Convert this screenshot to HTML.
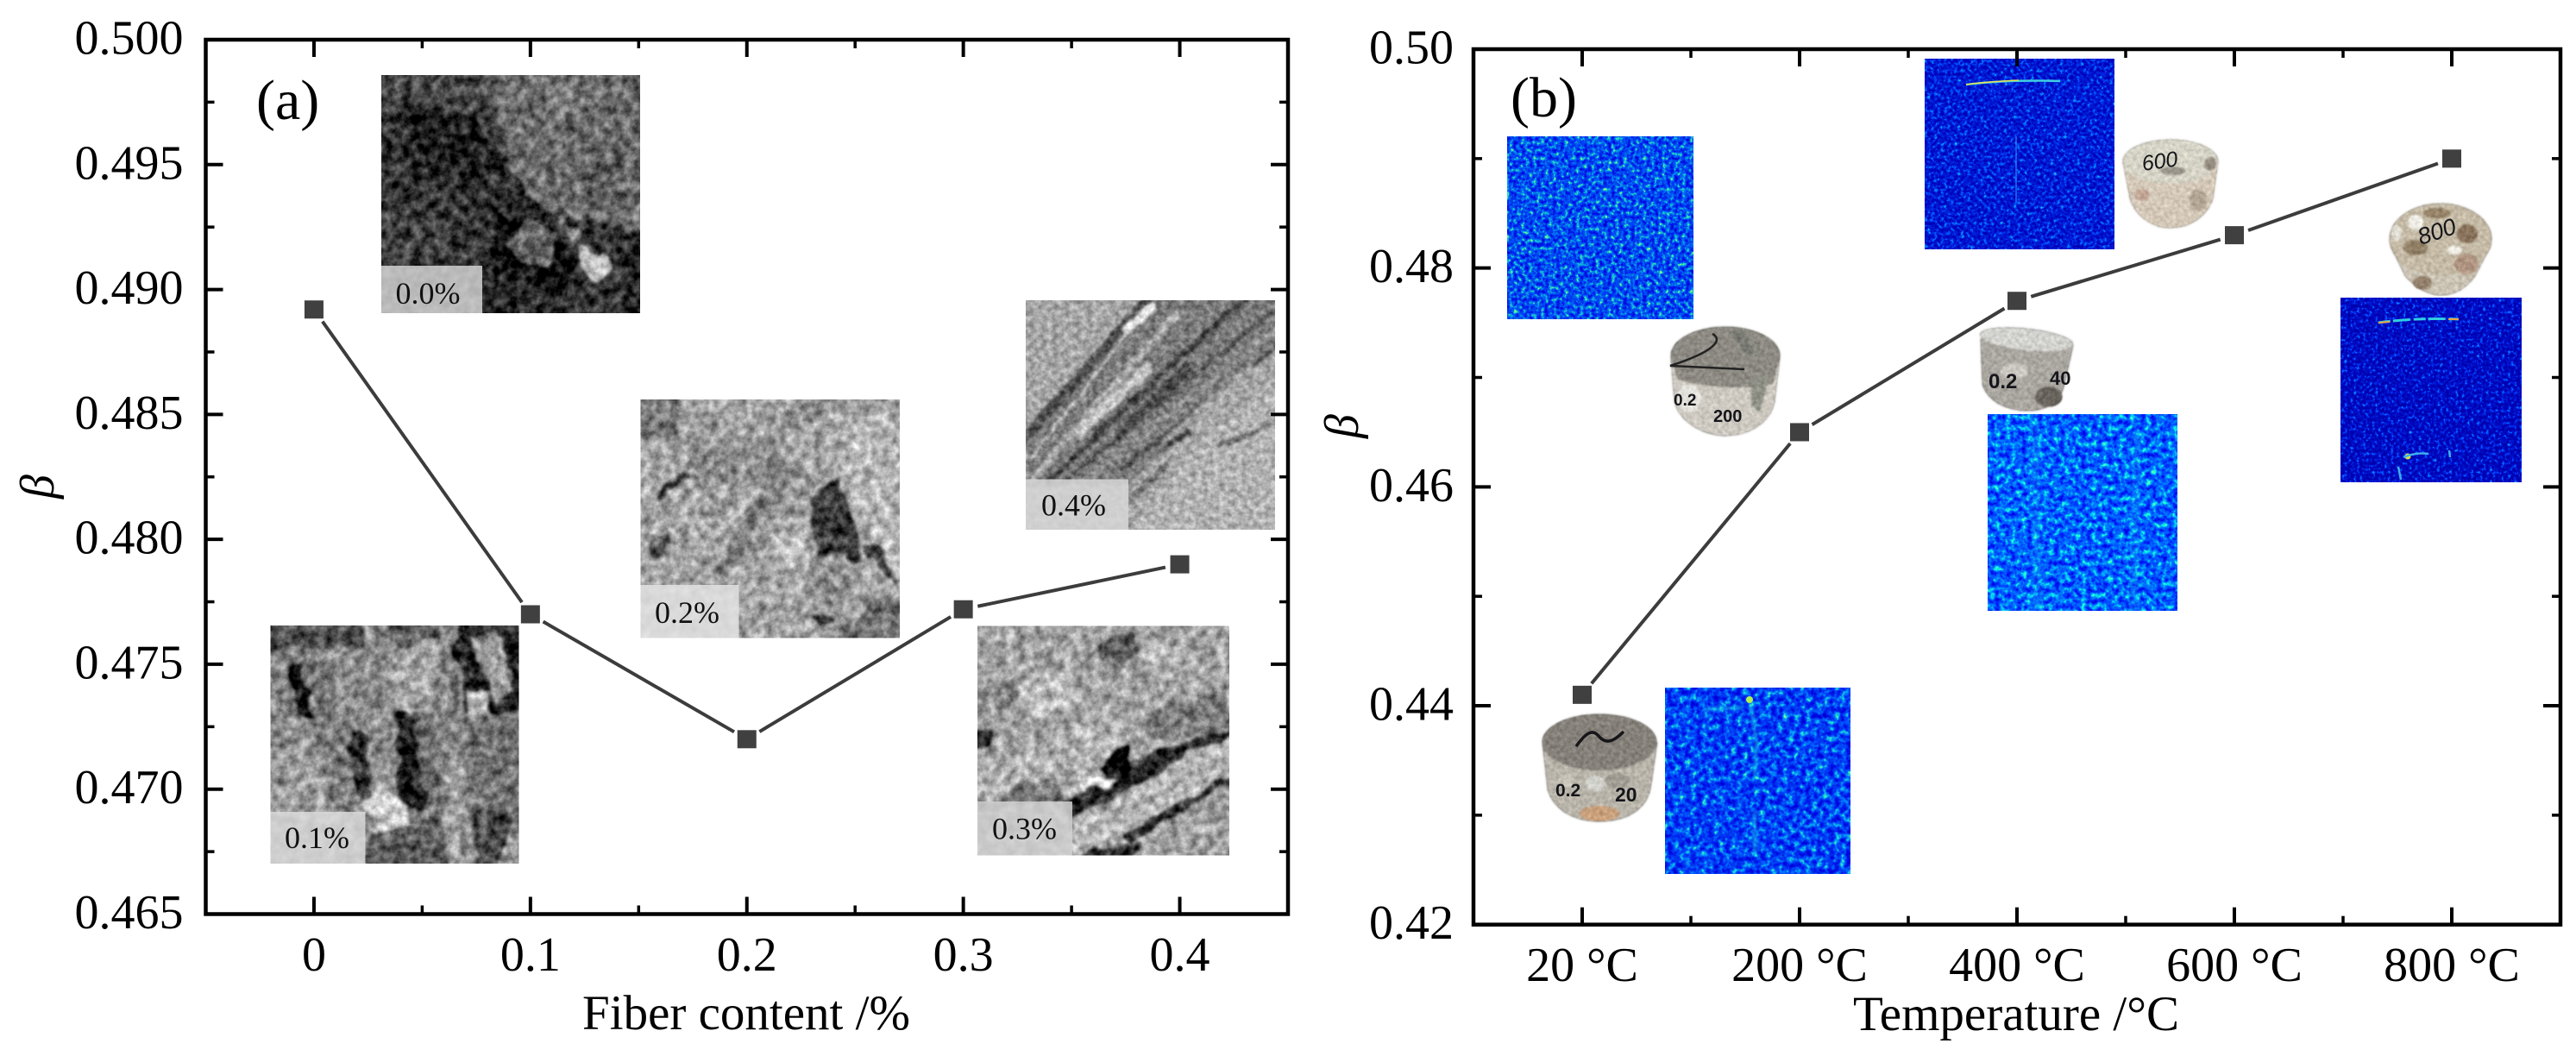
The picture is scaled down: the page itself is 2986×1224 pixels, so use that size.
<!DOCTYPE html>
<html lang="en">
<head>
<meta charset="utf-8">
<title>Beta versus fiber content and temperature</title>
<style>
html,body{margin:0;padding:0;background:#fff;}
body{width:2986px;height:1219px;overflow:hidden;}
svg text{font-family:"Liberation Serif","DejaVu Serif",serif;fill:#000;}
.tag{font-size:36px;fill:#111;}
svg text.ink{font-family:"Liberation Sans","DejaVu Sans",sans-serif;font-weight:700;fill:#15151a;}
svg text.thin{font-weight:400;font-style:italic;}
</style>
</head>
<body>
<svg id="fig" xmlns="http://www.w3.org/2000/svg" width="2986" height="1219" viewBox="0 0 2986 1219">
<defs>
  <filter id="sem" color-interpolation-filters="sRGB" x="-5%" y="-5%" width="110%" height="110%">
    <feTurbulence type="fractalNoise" baseFrequency=".035" numOctaves="2" seed="4" result="warp"/>
    <feDisplacementMap in="SourceGraphic" in2="warp" scale="22" xChannelSelector="R" yChannelSelector="G" result="d"/>
    <feGaussianBlur in="d" stdDeviation="1.5" result="b"/>
    <feTurbulence type="fractalNoise" baseFrequency=".09" numOctaves="4" seed="9"/>
    <feColorMatrix values="1 0 0 0 0 1 0 0 0 0 1 0 0 0 0 0 0 0 0 1" result="n"/>
    <feComposite in="b" in2="n" operator="arithmetic" k1="0" k2="1" k3=".75" k4="-.375"/>
  </filter>
  <filter id="semL" color-interpolation-filters="sRGB" x="-5%" y="-5%" width="110%" height="110%">
    <feTurbulence type="fractalNoise" baseFrequency=".05" numOctaves="2" seed="8" result="warp"/>
    <feDisplacementMap in="SourceGraphic" in2="warp" scale="7" xChannelSelector="R" yChannelSelector="G" result="d"/>
    <feGaussianBlur in="d" stdDeviation="1.6" result="b"/>
    <feTurbulence type="fractalNoise" baseFrequency=".15" numOctaves="3" seed="15"/>
    <feColorMatrix values="1 0 0 0 0 1 0 0 0 0 1 0 0 0 0 0 0 0 0 1" result="n"/>
    <feComposite in="b" in2="n" operator="arithmetic" k1="0" k2="1" k3=".5" k4="-.25"/>
  </filter>
  <filter id="blueA" color-interpolation-filters="sRGB" x="0" y="0" width="1" height="1">
    <feTurbulence type="fractalNoise" baseFrequency=".22" numOctaves="3" seed="3"/>
    <feColorMatrix values="1 0 0 0 0 1 0 0 0 0 1 0 0 0 0 0 0 0 0 1"/>
    <feComponentTransfer>
      <feFuncR type="table" tableValues="0 0 0 0 0 0 0 .06 .35 .8 1"/>
      <feFuncG type="table" tableValues="0 0 .02 .06 .17 .29 .46 .72 .95 1 1"/>
      <feFuncB type="table" tableValues=".8 .8 .85 .9 .93 .95 .95 .85 .6 .4 .3"/>
    </feComponentTransfer>
  </filter>
  <filter id="blueB" color-interpolation-filters="sRGB" x="0" y="0" width="1" height="1">
    <feTurbulence type="fractalNoise" baseFrequency=".26" numOctaves="3" seed="7"/>
    <feColorMatrix values="1 0 0 0 0 1 0 0 0 0 1 0 0 0 0 0 0 0 0 1"/>
    <feComponentTransfer>
      <feFuncR type="table" tableValues="0 0 0 0 0 0 0 0 .05 .2 .4"/>
      <feFuncG type="table" tableValues="0 0 0 0 .04 .09 .18 .38 .6 .8 1"/>
      <feFuncB type="table" tableValues=".6 .65 .7 .72 .76 .82 .92 1 1 1 1"/>
    </feComponentTransfer>
  </filter>
  <filter id="blueD" color-interpolation-filters="sRGB" x="0" y="0" width="1" height="1">
    <feTurbulence type="fractalNoise" baseFrequency=".28" numOctaves="3" seed="17"/>
    <feColorMatrix values="1 0 0 0 0 1 0 0 0 0 1 0 0 0 0 0 0 0 0 1"/>
    <feComponentTransfer>
      <feFuncR type="table" tableValues="0 0 0 0 0 0 0 0 .03 .15 .3"/>
      <feFuncG type="table" tableValues="0 0 0 0 .01 .04 .1 .26 .5 .7 1"/>
      <feFuncB type="table" tableValues=".6 .62 .65 .68 .7 .75 .85 1 1 1 1"/>
    </feComponentTransfer>
  </filter>
  <filter id="blueC" color-interpolation-filters="sRGB" x="0" y="0" width="1" height="1">
    <feTurbulence type="fractalNoise" baseFrequency=".15" numOctaves="3" seed="12"/>
    <feColorMatrix values="1 0 0 0 0 1 0 0 0 0 1 0 0 0 0 0 0 0 0 1"/>
    <feComponentTransfer>
      <feFuncR type="table" tableValues="0 0 0 0 0 0 0 .03 .15 .5 .8"/>
      <feFuncG type="table" tableValues="0 0 .01 .05 .14 .25 .4 .64 .9 1 1"/>
      <feFuncB type="table" tableValues=".75 .8 .85 .9 .93 .96 1 .95 .8 .6 .5"/>
    </feComponentTransfer>
  </filter>
  <filter id="blueE" color-interpolation-filters="sRGB" x="0" y="0" width="1" height="1">
    <feTurbulence type="fractalNoise" baseFrequency=".16" numOctaves="3" seed="28"/>
    <feColorMatrix values="1 0 0 0 0 1 0 0 0 0 1 0 0 0 0 0 0 0 0 1"/>
    <feComponentTransfer>
      <feFuncR type="table" tableValues="0 0 0 0 0 0 0 .02 .12 .4 .7"/>
      <feFuncG type="table" tableValues="0 0 .03 .1 .24 .37 .54 .8 1 1 1"/>
      <feFuncB type="table" tableValues=".85 .85 .9 .95 1 1 1 .95 .85 .7 .6"/>
    </feComponentTransfer>
  </filter>
  <filter id="rough" color-interpolation-filters="sRGB" x="-5%" y="-5%" width="110%" height="110%">
    <feGaussianBlur in="SourceGraphic" stdDeviation="1" result="b"/>
    <feTurbulence type="fractalNoise" baseFrequency=".22" numOctaves="3" seed="21"/>
    <feColorMatrix values="1 0 0 0 0 1 0 0 0 0 1 0 0 0 0 0 0 0 0 1" result="n"/>
    <feComposite in="b" in2="n" operator="arithmetic" k1="0" k2="1" k3=".26" k4="-.13" result="c"/>
    <feComposite in="c" in2="b" operator="in"/>
  </filter>
  <filter id="soft" x="-20%" y="-20%" width="140%" height="140%"><feGaussianBlur stdDeviation="1.6"/></filter>
  <clipPath id="c00"><rect x="442" y="87" width="300" height="276"/></clipPath>
  <clipPath id="c01"><rect x="313.500" y="725" width="288" height="276"/></clipPath>
  <clipPath id="c02"><rect x="742.500" y="463" width="300.500" height="276.500"/></clipPath>
  <clipPath id="c03"><rect x="1133" y="725.500" width="292" height="266"/></clipPath>
  <clipPath id="c04"><rect x="1189" y="348" width="289" height="266"/></clipPath>
</defs>

<rect x="0" y="0" width="2986" height="1219" fill="#fff"/>

<!-- SEM insets, panel (a) -->
<g>
  <g clip-path="url(#c00)"><g filter="url(#sem)">
    <rect x="410" y="60" width="360" height="330" fill="#343434"/>
    <g transform="translate(300 80) scale(.4847 .5931)">
      <polygon points="250,-20 560,-20 600,120 420,70 300,70 250,60" fill="#474747"/>
      <polygon points="530,-20 950,-20 950,330 870,310 770,290 720,300 650,250 590,170" fill="#6c6c6c"/>
      <polygon points="690,30 760,30 760,90 690,90" fill="#7c7c7c"/>
      <polygon points="760,120 880,160 880,280 780,260" fill="#5d5d5d"/>
      <polygon points="340,70 520,90 590,190 520,230 350,180" fill="#1e1e1e"/>
      <polygon points="520,220 660,260 720,310 620,320 560,300" fill="#272727"/>
      <polygon points="250,290 420,280 490,330 430,370 250,380" fill="#404040"/>
      <polygon points="560,280 700,310 760,370 720,480 560,500" fill="#0f0f0f"/>
      <polygon points="585,335 650,300 720,320 700,380 630,385" fill="#616161"/>
      <polygon points="760,340 820,360 850,395 810,420 775,395" fill="#c4c4c4"/>
      <polygon points="730,300 770,310 770,350 745,340" fill="#8d8d8d"/>
      <polygon points="840,320 950,320 950,500 860,500 880,400" fill="#232323"/>
      <polygon points="530,400 720,430 760,500 540,500" fill="#2a2a2a"/>
    </g>
  </g></g>
  <rect x="442" y="308" width="117" height="55" fill="#d8d8d8" opacity=".82"/>
  <text class="tag" x="458.500" y="352">0.0%</text>
</g>

<g>
  <g clip-path="url(#c01)"><g filter="url(#sem)">
    <rect x="285" y="700" width="345" height="330" fill="#7e7e7e"/>
    <g transform="translate(300 80) scale(.4847 .5931)">
      <polygon points="0,1070 250,1070 250,1130 150,1120 0,1140" fill="#4c4c4c"/>
      <polygon points="310,1070 420,1070 420,1120 310,1120" fill="#5c5c5c"/>
      <polygon points="470,1070 660,1070 660,1260 490,1260" fill="#222"/>
      <polygon points="0,1250 110,1240 125,1310 0,1340" fill="#8c8c8c"/>
      <polygon points="0,1340 120,1310 210,1430 170,1470 0,1460" fill="#9c9c9c"/>
      <polygon points="70,1165 108,1160 128,1275 95,1250" fill="#0a0a0a"/>
      <polygon points="105,1150 152,1130 218,1420 168,1440" fill="#7b7b7b"/>
      <polygon points="215,1290 258,1300 262,1420 232,1420" fill="#2c2c2c"/>
      <polygon points="160,1130 250,1130 255,1300 215,1290" fill="#8c8c8c"/>
      <polygon points="250,1075 305,1075 330,1412 268,1412" fill="#8c8c8c"/>
      <polygon points="310,1120 420,1120 425,1260 330,1260" fill="#a4a4a4"/>
      <polygon points="330,1255 372,1255 398,1450 335,1440" fill="#181818"/>
      <polygon points="365,1255 412,1255 442,1452 398,1452" fill="#6c6c6c"/>
      <polygon points="418,1075 470,1075 496,1342 438,1342" fill="#858585"/>
      <polygon points="438,1346 490,1350 514,1570 450,1570" fill="#9c9c9c"/>
      <polygon points="508,1110 562,1100 612,1210 562,1232" fill="#9a9a9a"/>
      <polygon points="495,1215 550,1220 555,1265 500,1265" fill="#b4b4b4"/>
      <polygon points="500,1280 660,1240 660,1570 510,1570" fill="#727272"/>
      <polygon points="510,1450 610,1450 570,1570 510,1570" fill="#474747"/>
      <polygon points="590,1510 660,1470 660,1570 570,1570" fill="#9c9c9c"/>
      <polygon points="250,1430 300,1400 360,1440 350,1490 280,1490" fill="#d0d0d0"/>
      <polygon points="260,1490 440,1470 450,1570 260,1570" fill="#5c5c5c"/>
    </g>
  </g></g>
  <rect x="313.500" y="941" width="110" height="60" fill="#dcdcdc" opacity=".85"/>
  <text class="tag" x="330" y="983">0.1%</text>
</g>

<g>
  <g clip-path="url(#c02)"><g filter="url(#sem)">
    <rect x="715" y="435" width="355" height="330" fill="#a4a4a4"/>
    <g transform="translate(300 80) scale(.4847 .5931)">
      <polygon points="890,620 1010,620 1010,720 890,720" fill="#757575"/>
      <polygon points="1240,670 1320,660 1325,695 1240,705" fill="#8c8c8c"/>
      <polygon points="1320,640 1400,640 1400,670 1320,680" fill="#888"/>
      <polygon points="1000,720 1260,720 1230,800 1050,820" fill="#8e8e8e"/>
      <polygon points="1075,990 1250,755 1292,765 1120,1000" fill="#7f7f7f"/>
      <polygon points="1150,980 1280,780 1340,800 1220,940" fill="#989898"/>
      <polygon points="950,830 1010,780 1020,790 960,840" fill="#333"/>
      <polygon points="930,910 985,910 985,950 930,950" fill="#5c5c5c"/>
      <polygon points="1330,830 1390,800 1450,960 1340,960 1320,880" fill="#3a3a3a"/>
      <polygon points="1380,690 1560,680 1560,920 1460,920 1400,830" fill="#b6b6b6"/>
      <polygon points="1450,950 1560,900 1560,1020 1510,1010" fill="#c2c2c2"/>
      <polygon points="1450,930 1470,925 1530,1010 1470,970" fill="#444"/>
      <polygon points="1230,900 1310,900 1310,980 1230,980" fill="#bcbcbc"/>
      <polygon points="1310,960 1400,950 1420,1040 1340,1080 1320,1040" fill="#8f8f8f"/>
      <polygon points="1330,1065 1380,1080 1370,1090 1320,1075" fill="#222"/>
      <polygon points="1360,1112 1530,1020 1560,1130 1420,1130" fill="#6e6e6e"/>
    </g>
  </g></g>
  <rect x="742.500" y="678" width="114" height="61.500" fill="#e0e0e0" opacity=".88"/>
  <text class="tag" x="759" y="722">0.2%</text>
</g>

<g>
  <g clip-path="url(#c03)"><g filter="url(#sem)">
    <rect x="1105" y="700" width="350" height="320" fill="#a2a2a2"/>
    <g transform="translate(1120 340) scale(.3333 .4209)">
      <polygon points="470,960 590,920 590,1000 480,1020" fill="#505050"/>
      <polygon points="190,1080 330,1040 400,1120 240,1170" fill="#c0c0c0"/>
      <polygon points="570,1100 900,1000 915,1080 590,1150" fill="#a4a4a4"/>
      <polygon points="0,1100 180,1060 180,1130 0,1180" fill="#8a8a8a"/>
      <polygon points="620,960 760,980 740,1030 620,1010" fill="#bcbcbc"/>
      <polygon points="620,1150 915,1090 915,1210 640,1230" fill="#7c7c7c"/>
      <polygon points="0,1340 500,1150 570,1200 570,1260 0,1400" fill="#b2b2b2"/>
      <polygon points="0,1200 100,1205 100,1250 0,1260" fill="#1c1c1c"/>
      <polygon points="0,1400 330,1330 320,1400 0,1430" fill="#777"/>
      <polygon points="320,1395 570,1295 930,1190 930,1235 640,1330 370,1435" fill="#2c2c2c"/>
      <polygon points="465,1305 560,1245 565,1325 480,1325" fill="#030303"/>
      <polygon points="395,1335 530,1335 500,1365 395,1365" fill="#ebebeb"/>
      <polygon points="350,1470 720,1290 930,1210 930,1320 540,1490 420,1570 350,1570" fill="#b4b4b4"/>
      <polygon points="530,1500 930,1320 930,1350 700,1450 560,1520" fill="#2e2e2e"/>
      <polygon points="560,1570 930,1380 930,1570" fill="#a0a0a0"/>
      <polygon points="400,1548 620,1510 560,1570 400,1570" fill="#2c2c2c"/>
    </g>
  </g></g>
  <rect x="1133" y="929" width="110" height="62.500" fill="#d2d2d2" opacity=".84"/>
  <text class="tag" x="1150" y="972.600">0.3%</text>
</g>

<g>
  <g clip-path="url(#c04)"><g filter="url(#semL)">
    <rect x="1160" y="320" width="350" height="320" fill="#a6a6a6"/>
    <g transform="translate(1120 340) scale(.3333 .4209)">
      <polygon points="208,430 420,200 700,-20 1100,-20 1100,130 800,350 560,530 208,530" fill="#7c7c7c"/>
      <polygon points="540,680 800,420 1100,225 1100,680" fill="#b2b2b2"/>
      <g fill="none">
        <line x1="170" y1="430" x2="640" y2="10" stroke="#4e4e4e" stroke-width="32"/>
        <line x1="220" y1="520" x2="740" y2="50" stroke="#ababab" stroke-width="22"/>
        <line x1="280" y1="520" x2="980" y2="5" stroke="#404040" stroke-width="18"/>
        <line x1="380" y1="390" x2="640" y2="200" stroke="#c4c4c4" stroke-width="34"/>
        <line x1="330" y1="525" x2="1100" y2="25" stroke="#585858" stroke-width="14"/>
        <line x1="520" y1="400" x2="780" y2="200" stroke="#484848" stroke-width="30"/>
        <line x1="410" y1="515" x2="1100" y2="85" stroke="#909090" stroke-width="16"/>
        <line x1="540" y1="485" x2="1100" y2="135" stroke="#4f4f4f" stroke-width="14"/>
        <line x1="700" y1="400" x2="1000" y2="200" stroke="#a2a2a2" stroke-width="24"/>
        <line x1="570" y1="570" x2="700" y2="470" stroke="#6e6e6e" stroke-width="20"/>
        <line x1="880" y1="420" x2="1100" y2="345" stroke="#747474" stroke-width="14"/>
        <line x1="225" y1="455" x2="560" y2="110" stroke="#dcdcdc" stroke-width="6"/>
        <line x1="550" y1="105" x2="655" y2="32" stroke="#e8e8e8" stroke-width="28"/>
        <line x1="695" y1="420" x2="780" y2="380" stroke="#444" stroke-width="14"/>
      </g>
    </g>
  </g></g>
  <rect x="1189" y="555.500" width="119" height="58.500" fill="#d6d6d6" opacity=".86"/>
  <text class="tag" x="1207" y="597.600">0.4%</text>
</g>

<!-- Panel (b): scan images -->
<rect x="1747" y="158" width="216" height="212" fill="#0040e0" filter="url(#blueA)"/>
<g>
  <rect x="2231" y="68" width="220" height="221" fill="#0020c8" filter="url(#blueB)"/>
  <path d="M2279 98 Q2330 92 2388 94" fill="none" stroke="#40d0e0" stroke-width="2.500"/>
  <path d="M2279 98 Q2300 95 2340 93" fill="none" stroke="#e8e050" stroke-width="1.500"/>
  <line x1="2337" y1="158" x2="2337" y2="235" stroke="#2a9cf0" stroke-width="1.500" opacity=".7"/>
</g>
<g>
  <rect x="2304" y="480" width="220" height="228" fill="#0050f0" filter="url(#blueE)"/>
  <g fill="none" stroke="#20c8f0" stroke-width="10" opacity=".2" filter="url(#soft)">
    <path d="M2358 480 L2362 708"/><path d="M2478 500 L2472 708"/>
  </g>
</g>
<g>
  <rect x="2713" y="345" width="210" height="214" fill="#0010c0" filter="url(#blueD)"/>
  <path d="M2757 374 Q2800 368 2850 370" fill="none" stroke="#30d0e0" stroke-width="3" stroke-dasharray="14 3 20 4"/>
  <path d="M2757 374 L2770 373 M2838 370 L2850 370" fill="none" stroke="#f0a040" stroke-width="2"/>
  <circle cx="2791" cy="529" r="3.500" fill="#e0e040"/>
  <path d="M2786 530 Q2800 524 2815 526 M2839 522 L2840 530 M2780 541 L2783 556" fill="none" stroke="#40b0f0" stroke-width="2.500"/>
</g>
<g>
  <rect x="1930" y="797" width="215" height="216" fill="#0040e0" filter="url(#blueC)"/>
  <g fill="none" stroke="#20e0e0" stroke-width="3.500" opacity=".55" filter="url(#soft)">
    <path d="M2029 814 L2036 860 L2034 900"/>
    <path d="M2034 940 L2034 990"/>
    <path d="M1975 822 L2020 820"/>
  </g>
  <circle cx="2028" cy="811" r="4" fill="#b0f050"/>
</g>

<!-- Panel (b): specimens -->
<g>
  <g filter="url(#rough)">
    <path d="M1787 860 L1793 915 C1800 940 1825 953 1854 953 C1885 953 1908 940 1914 915 L1922 860 Z" fill="#b8b4aa"/>
    <ellipse cx="1849" cy="908" rx="11" ry="9" fill="#d2d2cc"/>
    <ellipse cx="1875" cy="905" rx="14" ry="9" fill="#a09c94"/>
    <ellipse cx="1815" cy="905" rx="9" ry="7" fill="#cbc6bc"/>
    <ellipse cx="1854" cy="860" rx="67" ry="33" fill="#85817a"/>
    <ellipse cx="1854" cy="943" rx="23" ry="9" fill="#c9a07c"/>
  </g>
  <path d="M1827 865 C1838 850 1845 845 1852 852 C1860 862 1868 862 1882 848" fill="none" stroke="#16161a" stroke-width="3.500"/>
  <text class="ink" x="1803" y="923" font-size="21">0.2</text>
  <text class="ink" x="1872" y="929" font-size="23">20</text>
</g>
<g>
  <g filter="url(#rough)">
    <path d="M1936 415 L1940 465 C1945 490 1975 506 2000 506 C2028 506 2054 490 2058 465 L2064 415 Z" fill="#cdc9c1"/>
    <ellipse cx="1958" cy="462" rx="14" ry="16" fill="#e4e2dc"/>
    <ellipse cx="2000" cy="412" rx="64" ry="34" fill="#8c8a82"/>
    <path d="M1936 412 L1945 440 Q2000 455 2055 445 L2064 412 Z" fill="#8c8a82"/>
    <polygon points="2030,442 2052,432 2040,478 2030,470" fill="#8f9187"/>
    <polygon points="2005,385 2020,382 2035,410 2025,412" fill="#7a7b74"/>
  </g>
  <path d="M1985 387 C1995 392 1995 405 1936 424 L2022 428" fill="none" stroke="#222" stroke-width="2.500"/>
  <text class="ink" x="1986" y="489" font-size="20">200</text>
  <text class="ink" x="1940" y="470" font-size="19">0.2</text>
</g>
<g>
  <g filter="url(#rough)">
    <path d="M2295 392 L2297 445 C2302 465 2325 477 2350 477 C2375 477 2390 465 2394 445 L2404 400 Z" fill="#aaa6a0"/>
    <ellipse cx="2335" cy="430" rx="16" ry="9" fill="#cbc7c1"/>
    <ellipse cx="2349" cy="393" rx="55" ry="13" transform="rotate(6 2349 393)" fill="#d2d2ce"/>
    <ellipse cx="2375" cy="460" rx="16" ry="12" fill="#6a645e"/>
  </g>
  <text class="ink" x="2305" y="450" font-size="24">0.2</text>
  <text class="ink" x="2376" y="446" font-size="22">40</text>
</g>
<g>
  <g filter="url(#rough)">
    <path d="M2460 187 L2468 230 C2475 252 2495 265 2516 265 C2540 265 2560 250 2566 230 L2572 187 Z" fill="#d4c8b8"/>
    <ellipse cx="2483" cy="226" rx="9" ry="7" fill="#c4a898"/>
    <ellipse cx="2548" cy="232" rx="10" ry="13" fill="#b4a694"/>
    <ellipse cx="2516" cy="187" rx="56" ry="26" fill="#d6d4c6"/>
    <ellipse cx="2519" cy="198" rx="15" ry="5" fill="#9a968c"/>
    <ellipse cx="2562" cy="190" rx="7" ry="8" fill="#968e80"/>
  </g>
  <text class="ink thin" x="2484" y="198" font-size="25" transform="rotate(-8 2484 198)">600</text>
</g>
<g>
  <g filter="url(#rough)">
    <path d="M2770 285 L2787 320 C2800 335 2815 343 2830 343 C2848 343 2862 332 2870 320 L2888 285 Z" fill="#cbc3b3"/>
    <ellipse cx="2829" cy="277" rx="60" ry="42" fill="#c4baa6"/>
    <ellipse cx="2825" cy="247" rx="16" ry="6" fill="#968368"/>
    <ellipse cx="2859" cy="306" rx="14" ry="12" fill="#ae9480"/>
    <ellipse cx="2800" cy="287" rx="14" ry="9" fill="#917f66"/>
    <ellipse cx="2860" cy="271" rx="12" ry="11" fill="#8a735c"/>
    <ellipse cx="2800" cy="258" rx="9" ry="9" fill="#ecebe3"/>
    <ellipse cx="2808" cy="328" rx="11" ry="8" fill="#927f6a"/>
    <ellipse cx="2845" cy="290" rx="9" ry="5" fill="#eeece4"/>
    <ellipse cx="2778" cy="270" rx="6" ry="9" fill="#e2dfd6"/>
  </g>
  <text class="ink thin" x="2806" y="284" font-size="27" transform="rotate(-18 2806 284)">800</text>
</g>

<text x="297" y="138" font-size="66">(a)</text>
<text x="1751" y="135" font-size="66">(b)</text>

<g id="chartA"></g>
<g id="chartB"></g>
</svg>

<script>
const fiberContent = [0, 0.1, 0.2, 0.3, 0.4];
const fiberBeta = [0.4892, 0.477, 0.472, 0.4772, 0.479];
const fiberXTicks = [0, 0.1, 0.2, 0.3, 0.4];
const fiberXTickLabels = ['0', '0.1', '0.2', '0.3', '0.4'];
const fiberYTicks = [0.465, 0.47, 0.475, 0.48, 0.485, 0.49, 0.495, 0.5];
const fiberYTickLabels = ['0.465', '0.470', '0.475', '0.480', '0.485', '0.490', '0.495', '0.500'];

const tempCategories = ['20 °C', '200 °C', '400 °C', '600 °C', '800 °C'];
const tempBeta = [0.441, 0.465, 0.477, 0.483, 0.49];
const tempYTicks = [0.42, 0.44, 0.46, 0.48, 0.5];
const tempYTickLabels = ['0.42', '0.44', '0.46', '0.48', '0.50'];

const NS = 'http://www.w3.org/2000/svg';
function mk(parent, tag, attrs, txt) {
  const el = document.createElementNS(NS, tag);
  for (const k in attrs) el.setAttribute(k, attrs[k]);
  if (txt !== undefined) el.textContent = txt;
  parent.appendChild(el);
  return el;
}
function linear(d0, d1, r0, r1) {
  return v => r0 + (v - d0) * (r1 - r0) / (d1 - d0);
}

function drawPanel(root, box, xScale, yScale, xTicks, xMinor, xLabels, yTicks, yLabels, yMinor, xs, ys, opt) {
  for (const t of yMinor.concat(yTicks)) {
    const major = yTicks.includes(t);
    const len = major ? 20 : 10;
    const y = yScale(t);
    const a = mk(root, 'line', {x1: box.l, x2: box.l + len, y1: y, y2: y, stroke: '#000', 'stroke-width': major ? 4 : 3.5});
    
    
    const b = mk(root, 'line', {x1: box.r, x2: box.r - len, y1: y, y2: y, stroke: '#000', 'stroke-width': major ? 4 : 3.5});
    
    
  }
  for (const t of xMinor.concat(xTicks)) {
    const major = xTicks.includes(t);
    const len = major ? 20 : 10;
    const x = xScale(t);
    const a = mk(root, 'line', {x1: x, x2: x, y1: box.b, y2: box.b - len, stroke: '#000', 'stroke-width': major ? 4 : 3.5});
    
    
    const b = mk(root, 'line', {x1: x, x2: x, y1: box.t, y2: box.t + len, stroke: '#000', 'stroke-width': major ? 4 : 3.5});
    
    
  }
  const frame = mk(root, 'rect', {x: box.l, y: box.t, width: box.r - box.l, height: box.b - box.t, fill: 'none', stroke: '#000', 'stroke-width': 4.5});
  
  

  yTicks.forEach((t, i) => {
    const el = mk(root, 'text', {x: opt.yLabelX, y: yScale(t) + 16.5, 'font-size': 56, 'text-anchor': 'end'}, yLabels[i]);
    
    
  });
  xTicks.forEach((t, i) => {
    const el = mk(root, 'text', {x: xScale(t), y: opt.xLabelY, 'font-size': 56, 'text-anchor': 'middle'}, xLabels[i]);
    
    
  });
  const xt = mk(root, 'text', {x: opt.xTitleX, y: opt.xTitleY, 'font-size': 57, 'text-anchor': 'middle'}, opt.xTitle);
  
  
  const yt = mk(root, 'text', {x: 0, y: 0, 'font-size': 56, 'font-style': 'italic', 'text-anchor': 'middle', transform: 'translate(' + opt.yTitleX + ' ' + opt.yTitleY + ') rotate(-90)'}, 'β');
  
  

  const gap = 17;
  for (let i = 0; i < xs.length - 1; i++) {
    const x0 = xScale(xs[i]), y0 = yScale(ys[i]), x1 = xScale(xs[i + 1]), y1 = yScale(ys[i + 1]);
    const dist = Math.hypot(x1 - x0, y1 - y0), ux = (x1 - x0) / dist, uy = (y1 - y0) / dist;
    const seg = mk(root, 'line', {x1: x0 + ux * gap, y1: y0 + uy * gap, x2: x1 - ux * gap, y2: y1 - uy * gap, stroke: '#3c3c3c', 'stroke-width': 4});
    
    
  }
  xs.forEach((v, i) => {
    const p = mk(root, 'rect', {x: xScale(v) - 11, y: yScale(ys[i]) - 10.5, width: 22, height: 21, fill: '#404040'});
    
    
  });
}

function midpoints(arr) {
  const out = [];
  for (let i = 0; i < arr.length - 1; i++) out.push((arr[i] + arr[i + 1]) / 2);
  return out;
}

const boxA = {l: 238.5, r: 1493, t: 46, b: 1059.5};
const xA = linear(-0.05, 0.45, boxA.l, boxA.r);
const yA = linear(0.465, 0.5, boxA.b, boxA.t);
const xAMinor = midpoints(fiberXTicks);
drawPanel(document.getElementById('chartA'), boxA, xA, yA,
  fiberXTicks, xAMinor, fiberXTickLabels,
  fiberYTicks, fiberYTickLabels, midpoints(fiberYTicks),
  fiberContent, fiberBeta,
  {yLabelX: 212.5, xLabelY: 1125, xTitle: 'Fiber content /%', xTitleX: 865, xTitleY: 1193, yTitleX: 62, yTitleY: 564});

const boxB = {l: 1708, r: 2968, t: 57, b: 1071.7};
const xB = linear(0.5, 5.5, boxB.l, boxB.r);
const yB = linear(0.42, 0.5, boxB.b, boxB.t);
const tempIndex = tempCategories.map((c, i) => i + 1);
drawPanel(document.getElementById('chartB'), boxB, xB, yB,
  tempIndex, midpoints(tempIndex), tempCategories,
  tempYTicks, tempYTickLabels, midpoints(tempYTicks),
  tempIndex, tempBeta,
  {yLabelX: 1685, xLabelY: 1137, xTitle: 'Temperature /°C', xTitleX: 2337, xTitleY: 1194, yTitleX: 1574, yTitleY: 494});
</script>
</body>
</html>
